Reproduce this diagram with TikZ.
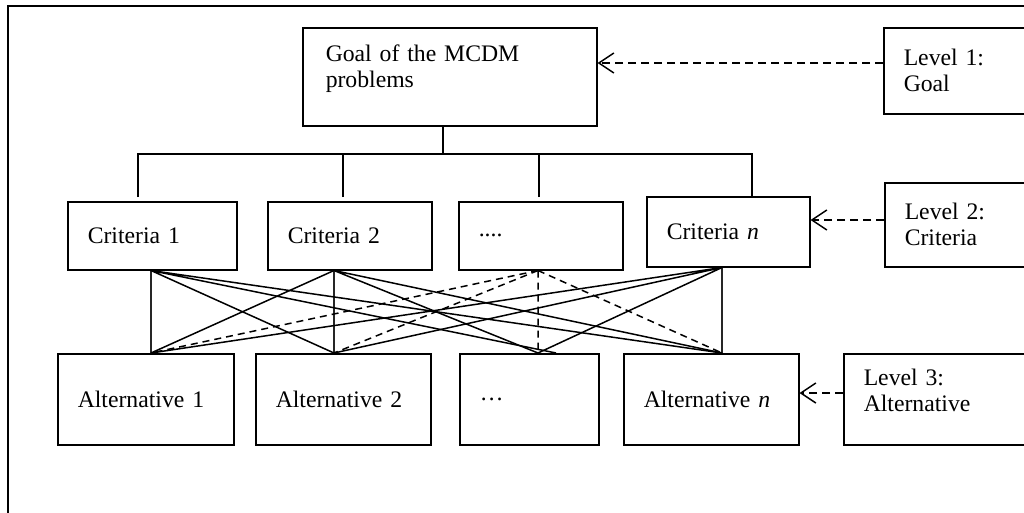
\documentclass[tikz,border=0pt]{standalone}
\usepackage{fontspec}
\setmainfont{Liberation Serif}
\usetikzlibrary{arrows.meta}

\begin{document}
\begin{tikzpicture}[x=1pt, y=-1pt, line width=1.5pt,
  font=\fontsize{23.7}{26}\selectfont, >={Straight Barb[length=15pt,width=20pt]},
  box/.style={draw, anchor=north west, align=left, inner xsep=20pt, inner ysep=0pt},
  thinlink/.style={line width=1.1pt, black!85},
  dashlink/.style={dash pattern=on 7pt off 5pt},
  lvarrow/.style={->, dash pattern=on 8pt off 5pt}]
\clip (0,0) rectangle (1024,512);
\draw (8,6) rectangle (1040,530);
% level 1: goal
\node[box, text width=248pt, inner xsep=23pt, minimum height=98pt, text depth=48pt] (goal) at (302,27) {Goal of the MCDM\\problems};
\node[box, text width=117pt, minimum height=86pt] (lv1) at (883,27) {Level 1:\\Goal};
\draw[lvarrow] (lv1.west |- 0,63) -- (goal.east |- 0,63);
% level 2: criteria
\node[box, text width=129pt, minimum height=68pt] (c1) at (67,201) {Criteria 1};
\node[box, text width=124pt, minimum height=68pt] (c2) at (267,201) {Criteria 2};
\node[box, text width=124pt, minimum height=68pt] (c3) at (458,201) {....};
\node[box, text width=123pt, minimum height=70pt] (cn) at (646,196) {Criteria \textit{n}};
\node[box, text width=116pt, minimum height=84pt] (lv2) at (884,182) {Level 2:\\Criteria};
\draw[lvarrow] (lv2.west |- 0,220) -- (cn.east |- 0,220);
% tree from the goal
\coordinate (j) at (443,154);
\draw (goal.south -| j) -- (j);
\draw[shorten <=4pt] (c1.north -| 138,0) |- (j) -| (cn.north -| 752,0);
\draw[shorten <=4pt] (c2.north -| 343,0) -- (j -| 343,0);
\draw[shorten <=4pt] (c3.north -| 539,0) -- (j -| 539,0);
% level 3: alternatives
\node[box, text width=136pt, minimum height=91pt] (a1) at (57,353) {Alternative 1};
\node[box, text width=135pt, minimum height=91pt] (a2) at (255,353) {Alternative 2};
\node[box, text width=99pt, minimum height=91pt] (a3) at (459,353) {…};
\node[box, text width=135pt, minimum height=91pt] (an) at (623,353) {Alternative \textit{n}};
\node[box, text width=157pt, minimum height=91pt, text depth=44pt] (lv3) at (843,353) {Level 3:\\Alternative};
\draw[lvarrow] (lv3.west |- 0,393) -- (an.east |- 0,393);
% criteria to alternatives
\coordinate (t1) at (c1.south -| 151,0);
\coordinate (t2) at (c2.south -| 334,0);
\coordinate (t3) at (c3.south -| 538,0);
\coordinate (tn) at (cn.south -| 722,0);
\coordinate (b1) at (a1.north -| 151,0);
\coordinate (b2) at (a2.north -| 334,0);
\coordinate (b3) at (a3.north -| 538,0);
\coordinate (b3r) at (a3.north -| 556,0);
\coordinate (bn) at (an.north -| 722,0);
\draw[thinlink] (t1) -- (b1) (t2) -- (b2) (tn) -- (bn);
\draw (t1) -- (b2) (t1) -- (b3r) (t1) -- (bn);
\draw (t2) -- (b1) (t2) -- (b3) (t2) -- (bn);
\draw (tn) -- (b1) (tn) -- (b2) (tn) -- (b3);
\draw[dashlink] (t3) -- (b1) (t3) -- (b2) (t3) -- (b3) (t3) -- (bn);
\end{tikzpicture}
\end{document}
